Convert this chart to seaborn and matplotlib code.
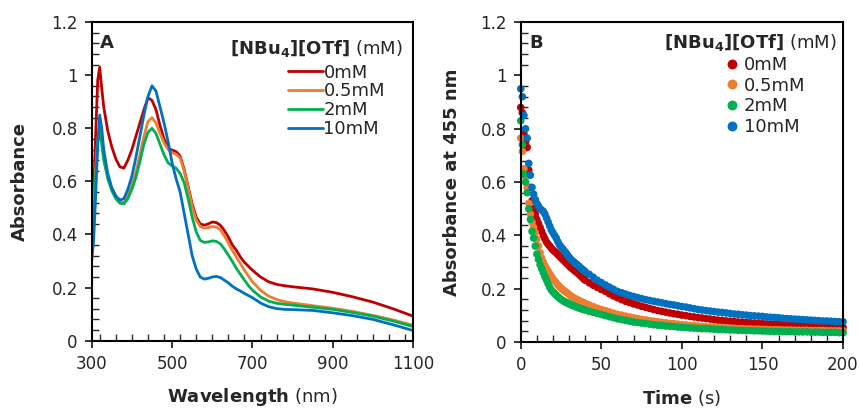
import matplotlib
matplotlib.use("Agg")
import matplotlib.pyplot as plt
import matplotlib.ticker as mticker
import seaborn as sns
import pandas as pd
import numpy as np

# concentration series (labels + colours)
conc_labels = ["0mM", "0.5mM", "2mM", "10mM"]
conc_colors = ["#C00000", "#ED7D31", "#00B050", "#0070C0"]

# ---- Panel A: UV-vis spectra ----
wavelength = [300, 305, 310, 315, 320, 325, 330, 340, 350, 360, 370, 380, 390, 400,
              410, 420, 430, 440, 450, 460, 470, 480, 490, 500, 510, 520, 530, 540,
              550, 560, 570, 580, 590, 600, 610, 620, 630, 640, 650, 660, 670, 680,
              690, 700, 720, 740, 760, 780, 800, 850, 900, 950, 1000, 1050, 1100]

abs_0mM = [.47, .56, .78, .98, 1.03, .95, .88, .79, .73, .685, .655, .65, .68, .72,
           .77, .82, .87, .915, .905, .87, .81, .76, .725, .718, .712, .695, .645, .58,
           .515, .465, .44, .435, .44, .447, .445, .435, .415, .39, .36, .34, .315, .295,
           .28, .265, .24, .222, .212, .207, .203, .195, .182, .165, .145, .12, .092]
abs_05mM = [.42, .50, .65, .76, .80, .75, .69, .62, .575, .545, .525, .52, .545, .585,
            .635, .70, .77, .825, .84, .82, .78, .745, .72, .708, .702, .688, .64, .575,
            .505, .455, .43, .424, .426, .43, .428, .418, .395, .368, .34, .315, .29, .265,
            .243, .222, .19, .168, .155, .147, .142, .132, .122, .11, .095, .078, .058]
abs_2mM = [.36, .45, .62, .75, .79, .74, .68, .61, .565, .535, .518, .515, .535, .57,
           .615, .675, .74, .785, .80, .78, .74, .70, .67, .658, .65, .63, .595, .535,
           .465, .41, .378, .37, .372, .376, .374, .365, .345, .322, .298, .272, .25, .228,
           .207, .19, .165, .149, .141, .137, .134, .126, .118, .106, .092, .074, .053]
abs_10mM = [.30, .38, .55, .74, .85, .80, .72, .63, .575, .545, .53, .535, .57, .62,
            .69, .77, .85, .92, .96, .94, .88, .82, .75, .67, .61, .56, .48, .40,
            .32, .27, .24, .232, .235, .24, .242, .238, .228, .218, .205, .195, .187, .178,
            .17, .162, .142, .128, .121, .118, .117, .114, .105, .094, .08, .06, .038]

# ---- Panel B: kinetics at 455 nm ----
# 1 s sampling up to 40 s, then every 2.5 s
time_s = list(range(0, 41)) + [40 + 2.5 * k for k in range(1, 65)]

kin_0mM = [.88, .86, .78, .75, .73, .645, .58, .53, .50, .48, .46, .445, .43, .415,
           .40, .387, .375, .367, .36, .352, .345, .34, .335, .328, .322, .316, .31,
           .304, .298, .292, .286, .28, .275, .27, .265, .26, .255, .249, .243, .237, .232,
           .222, .213, .205, .197, .19, .181, .173, .166,
           .159, .153, .148, .143, .139, .134, .130, .126,
           .122, .118, .115, .112, .109, .106, .104, .101,
           .099, .096, .094, .092, .090, .088, .086, .084,
           .082, .081, .079, .078, .077, .075, .074, .073,
           .072, .071, .070, .069, .068, .067, .067, .066,
           .065, .064, .063, .063, .062, .061, .060, .060,
           .059, .058, .058, .057, .057, .056, .055, .055]
kin_05mM = [.765, .715, .65, .62, .58, .52, .48, .45, .43, .41, .385, .36, .335, .315,
            .30, .287, .275, .265, .255, .246, .237, .229, .222, .215, .208, .202, .197,
            .192, .188, .183, .178, .173, .169, .165, .162, .159, .156, .153, .150, .147, .145,
            .139, .133, .127, .122, .118, .113, .108, .104,
            .101, .097, .094, .091, .088, .085, .083, .080,
            .078, .076, .074, .072, .070, .069, .067, .065,
            .064, .062, .061, .060, .058, .057, .056, .055,
            .054, .054, .053, .052, .051, .050, .050, .049,
            .049, .048, .048, .047, .047, .046, .046, .046,
            .045, .045, .045, .044, .044, .044, .044, .043,
            .043, .043, .043, .042, .042, .042, .042, .042]
kin_2mM = [.83, .74, .63, .60, .56, .50, .46, .415, .39, .36, .33, .31, .29, .275,
           .26, .245, .232, .218, .205, .195, .188, .182, .176, .17, .165, .16, .156,
           .152, .149, .146, .143, .140, .138, .135, .133, .130, .128, .126, .124, .122, .12,
           .115, .111, .107, .103, .099, .095, .091, .087,
           .084, .081, .078, .075, .073, .071, .069, .067,
           .065, .063, .062, .060, .059, .058, .056, .055,
           .054, .053, .052, .051, .050, .050, .049, .048,
           .047, .047, .046, .045, .045, .044, .044, .043,
           .043, .042, .042, .041, .041, .040, .040, .040,
           .039, .039, .039, .038, .038, .038, .038, .037,
           .037, .037, .036, .036, .036, .036, .035, .035]
kin_10mM = [.95, .92, .85, .80, .765, .67, .626, .58, .555, .535, .52, .51, .50, .495,
            .49, .48, .465, .45, .435, .42, .41, .40, .39, .377, .365, .357, .35,
            .342, .335, .326, .318, .311, .305, .30, .295, .29, .285, .279, .274, .269, .264,
            .254, .243, .232, .223, .214, .206, .198, .19,
            .185, .18, .175, .171, .167, .163, .159, .156,
            .153, .150, .147, .144, .141, .139, .136, .133,
            .131, .128, .125, .122, .120, .118, .116, .114,
            .112, .111, .109, .107, .105, .104, .102, .101,
            .099, .098, .097, .096, .094, .093, .092, .091,
            .089, .088, .087, .086, .085, .084, .083, .082,
            .081, .080, .079, .079, .078, .077, .076, .076]

spectra = pd.concat([
    pd.DataFrame({"wavelength": wavelength, "absorbance": vals, "conc": lab})
    for lab, vals in zip(conc_labels, [abs_0mM, abs_05mM, abs_2mM, abs_10mM])
], ignore_index=True)

kinetics = pd.concat([
    pd.DataFrame({"time": time_s, "absorbance": vals, "conc": lab})
    for lab, vals in zip(conc_labels, [kin_0mM, kin_05mM, kin_2mM, kin_10mM])
], ignore_index=True)

sns.set_style("ticks")
plt.rcParams.update({
    "font.family": ["DejaVu Sans"],
    "mathtext.fontset": "dejavusans",
    "axes.linewidth": 1.5,
    "axes.edgecolor": "black",
})

palette = dict(zip(conc_labels, conc_colors))
legend_title = r"$\mathbf{[NBu_4][OTf]}$ (mM)"

fig = plt.figure(figsize=(8.6, 4.09), dpi=100)
ax1 = fig.add_axes([0.1066, 0.167, 0.374, 0.779])
ax2 = fig.add_axes([0.6055, 0.1638, 0.3748, 0.782])

# -- A: spectra --
sns.lineplot(data=spectra, x="wavelength", y="absorbance", hue="conc",
             hue_order=conc_labels, palette=palette, linewidth=2, ax=ax1)
ax1.set_xlim(300, 1100)
ax1.set_ylim(0, 1.2)
ax1.set_xticks([300, 500, 700, 900, 1100])
ax1.xaxis.set_minor_locator(mticker.MultipleLocator(40))
ax1.set_xlabel(r"$\mathbf{Wavelength}$ (nm)", fontsize=13, labelpad=10)
ax1.set_ylabel("Absorbance", fontsize=13, fontweight="bold", labelpad=16)
sns.move_legend(ax1, "upper left", bbox_to_anchor=(0.611, 0.87), title=None,
                frameon=False, fontsize=13, handlelength=1.9, handletextpad=0.05,
                labelspacing=0.05, borderpad=0, borderaxespad=0)
ax1.text(0.968, 0.918, legend_title, transform=ax1.transAxes, ha="right",
         va="center", fontsize=13)
ax1.text(0.026, 0.962, "A", transform=ax1.transAxes, ha="left", va="top",
         fontsize=13, fontweight="bold")

# -- B: kinetics --
sns.scatterplot(data=kinetics, x="time", y="absorbance", hue="conc",
                hue_order=conc_labels, palette=palette, s=30, linewidth=0,
                clip_on=False, ax=ax2)
ax2.set_xlim(0, 200)
ax2.set_ylim(0, 1.2)
ax2.set_xticks([0, 50, 100, 150, 200])
ax2.xaxis.set_minor_locator(mticker.MultipleLocator(10))
ax2.set_xlabel(r"$\mathbf{Time}$ (s)", fontsize=13, labelpad=10)
ax2.set_ylabel("Absorbance at 455 nm", fontsize=13, fontweight="bold", labelpad=14)
sns.move_legend(ax2, "upper left", bbox_to_anchor=(0.638, 0.894), title=None,
                frameon=False, fontsize=13, handlelength=0.6, handletextpad=0.35,
                labelspacing=0.15, borderpad=0, borderaxespad=0, markerscale=1.3)
ax2.text(0.981, 0.9375, legend_title, transform=ax2.transAxes, ha="right",
         va="center", fontsize=13)
ax2.text(0.026, 0.962, "B", transform=ax2.transAxes, ha="left", va="top",
         fontsize=13, fontweight="bold")

for ax in (ax1, ax2):
    ax.set_yticks([0, 0.2, 0.4, 0.6, 0.8, 1.0, 1.2])
    ax.yaxis.set_major_formatter(mticker.FuncFormatter(lambda v, p: f"{v:g}"))
    ax.yaxis.set_minor_locator(mticker.MultipleLocator(0.04))
    for side in ["top", "right", "bottom", "left"]:
        ax.spines[side].set_visible(True)
        ax.spines[side].set_linewidth(1.5)
    ax.tick_params(which="major", direction="out", length=5, width=1.3,
                   labelsize=12, pad=5)
    ax.tick_params(which="minor", direction="in", length=5, width=1.0)

fig.savefig("out.png", dpi=100)
plt.close(fig)
